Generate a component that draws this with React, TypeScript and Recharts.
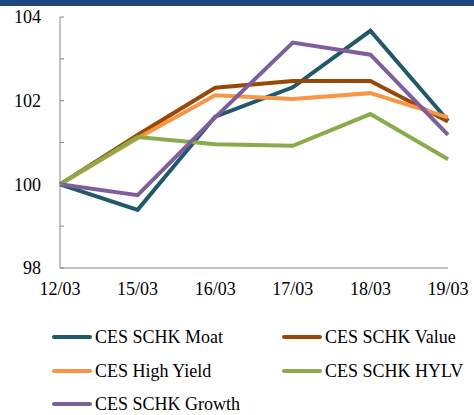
import React from 'react';
import { LineChart, Line, XAxis, YAxis } from 'recharts';

const dates = ['12/03', '15/03', '16/03', '17/03', '18/03', '19/03'];
const moat = [100, 99.39, 101.62, 102.32, 103.67, 101.52];
const value = [100, 101.18, 102.31, 102.47, 102.47, 101.5];
const highYield = [100, 101.1, 102.13, 102.04, 102.18, 101.6];
const hylv = [100, 101.13, 100.96, 100.92, 101.68, 100.6];
const growth = [100, 99.74, 101.6, 103.39, 103.1, 101.18];
const yTicks = [98, 99, 100, 101, 102, 103, 104];

const series = [
  { key: 'moat', name: 'CES SCHK Moat', color: '#215968' },
  { key: 'value', name: 'CES SCHK Value', color: '#984807' },
  { key: 'highYield', name: 'CES High Yield', color: '#F79646' },
  { key: 'hylv', name: 'CES SCHK HYLV', color: '#8BAA4A' },
  { key: 'growth', name: 'CES SCHK Growth', color: '#7D5F9E' },
];

const data = dates.map((d, i) => ({
  date: d,
  moat: moat[i],
  value: value[i],
  highYield: highYield[i],
  hylv: hylv[i],
  growth: growth[i],
}));

const FONT = '"Liberation Serif", "Times New Roman", serif';
const TICK_MARGIN = 19;

// y ticks: label on even values, short tick mark pointing into the plot
const YTick = (props: any) => {
  const { x, y, payload } = props;
  const axisX = x + TICK_MARGIN;
  return (
    <g>
      <line x1={axisX} y1={y} x2={axisX + 4} y2={y} stroke="#868686" strokeWidth={1} />
      {payload.value % 2 === 0 && (
        <text x={x} y={y} dy="0.35em" textAnchor="end" fontSize={18} fontFamily={FONT} fill="#000">
          {payload.value}
        </text>
      )}
    </g>
  );
};

const legendPos = [
  { left: 52, top: 320 },
  { left: 282, top: 320 },
  { left: 52, top: 354 },
  { left: 282, top: 354 },
  { left: 52, top: 387 },
];

export default function App() {
  return (
    <div style={{ position: 'absolute', left: 0, top: 0, width: 474, height: 415, background: '#fff', fontFamily: FONT }}>
      <div style={{ position: 'absolute', left: 0, top: 0, width: 474, height: 6, background: '#1F497D' }} />
      <div style={{ position: 'absolute', left: 0, top: 0 }}>
        <LineChart width={474} height={300} data={data} margin={{ top: 17, right: 26, left: 0, bottom: 2 }}>
          <XAxis
            dataKey="date"
            height={30}
            tickSize={0}
            tickMargin={14}
            tick={{ fontSize: 18, fontFamily: FONT, fill: '#000' }}
            axisLine={{ stroke: '#868686', strokeWidth: 1 }}
            interval={0}
          />
          <YAxis
            width={60}
            domain={[98, 104]}
            ticks={yTicks}
            interval={0}
            tickSize={0}
            tickMargin={TICK_MARGIN}
            tickLine={false}
            tick={<YTick />}
            axisLine={{ stroke: '#868686', strokeWidth: 1 }}
          />
          {series.map((s) => (
            <Line
              key={s.key}
              type="linear"
              dataKey={s.key}
              name={s.name}
              stroke={s.color}
              strokeWidth={4}
              dot={false}
              isAnimationActive={false}
            />
          ))}
        </LineChart>
      </div>
      {series.map((s, i) => (
        <div
          key={s.key}
          style={{ position: 'absolute', left: legendPos[i].left, top: legendPos[i].top, height: 34, display: 'flex', alignItems: 'center', fontSize: 18, color: '#000', whiteSpace: 'nowrap' }}
        >
          <div style={{ width: 40, height: 4, borderRadius: 2, background: s.color, marginRight: 3 }} />
          <span>{s.name}</span>
        </div>
      ))}
    </div>
  );
}
